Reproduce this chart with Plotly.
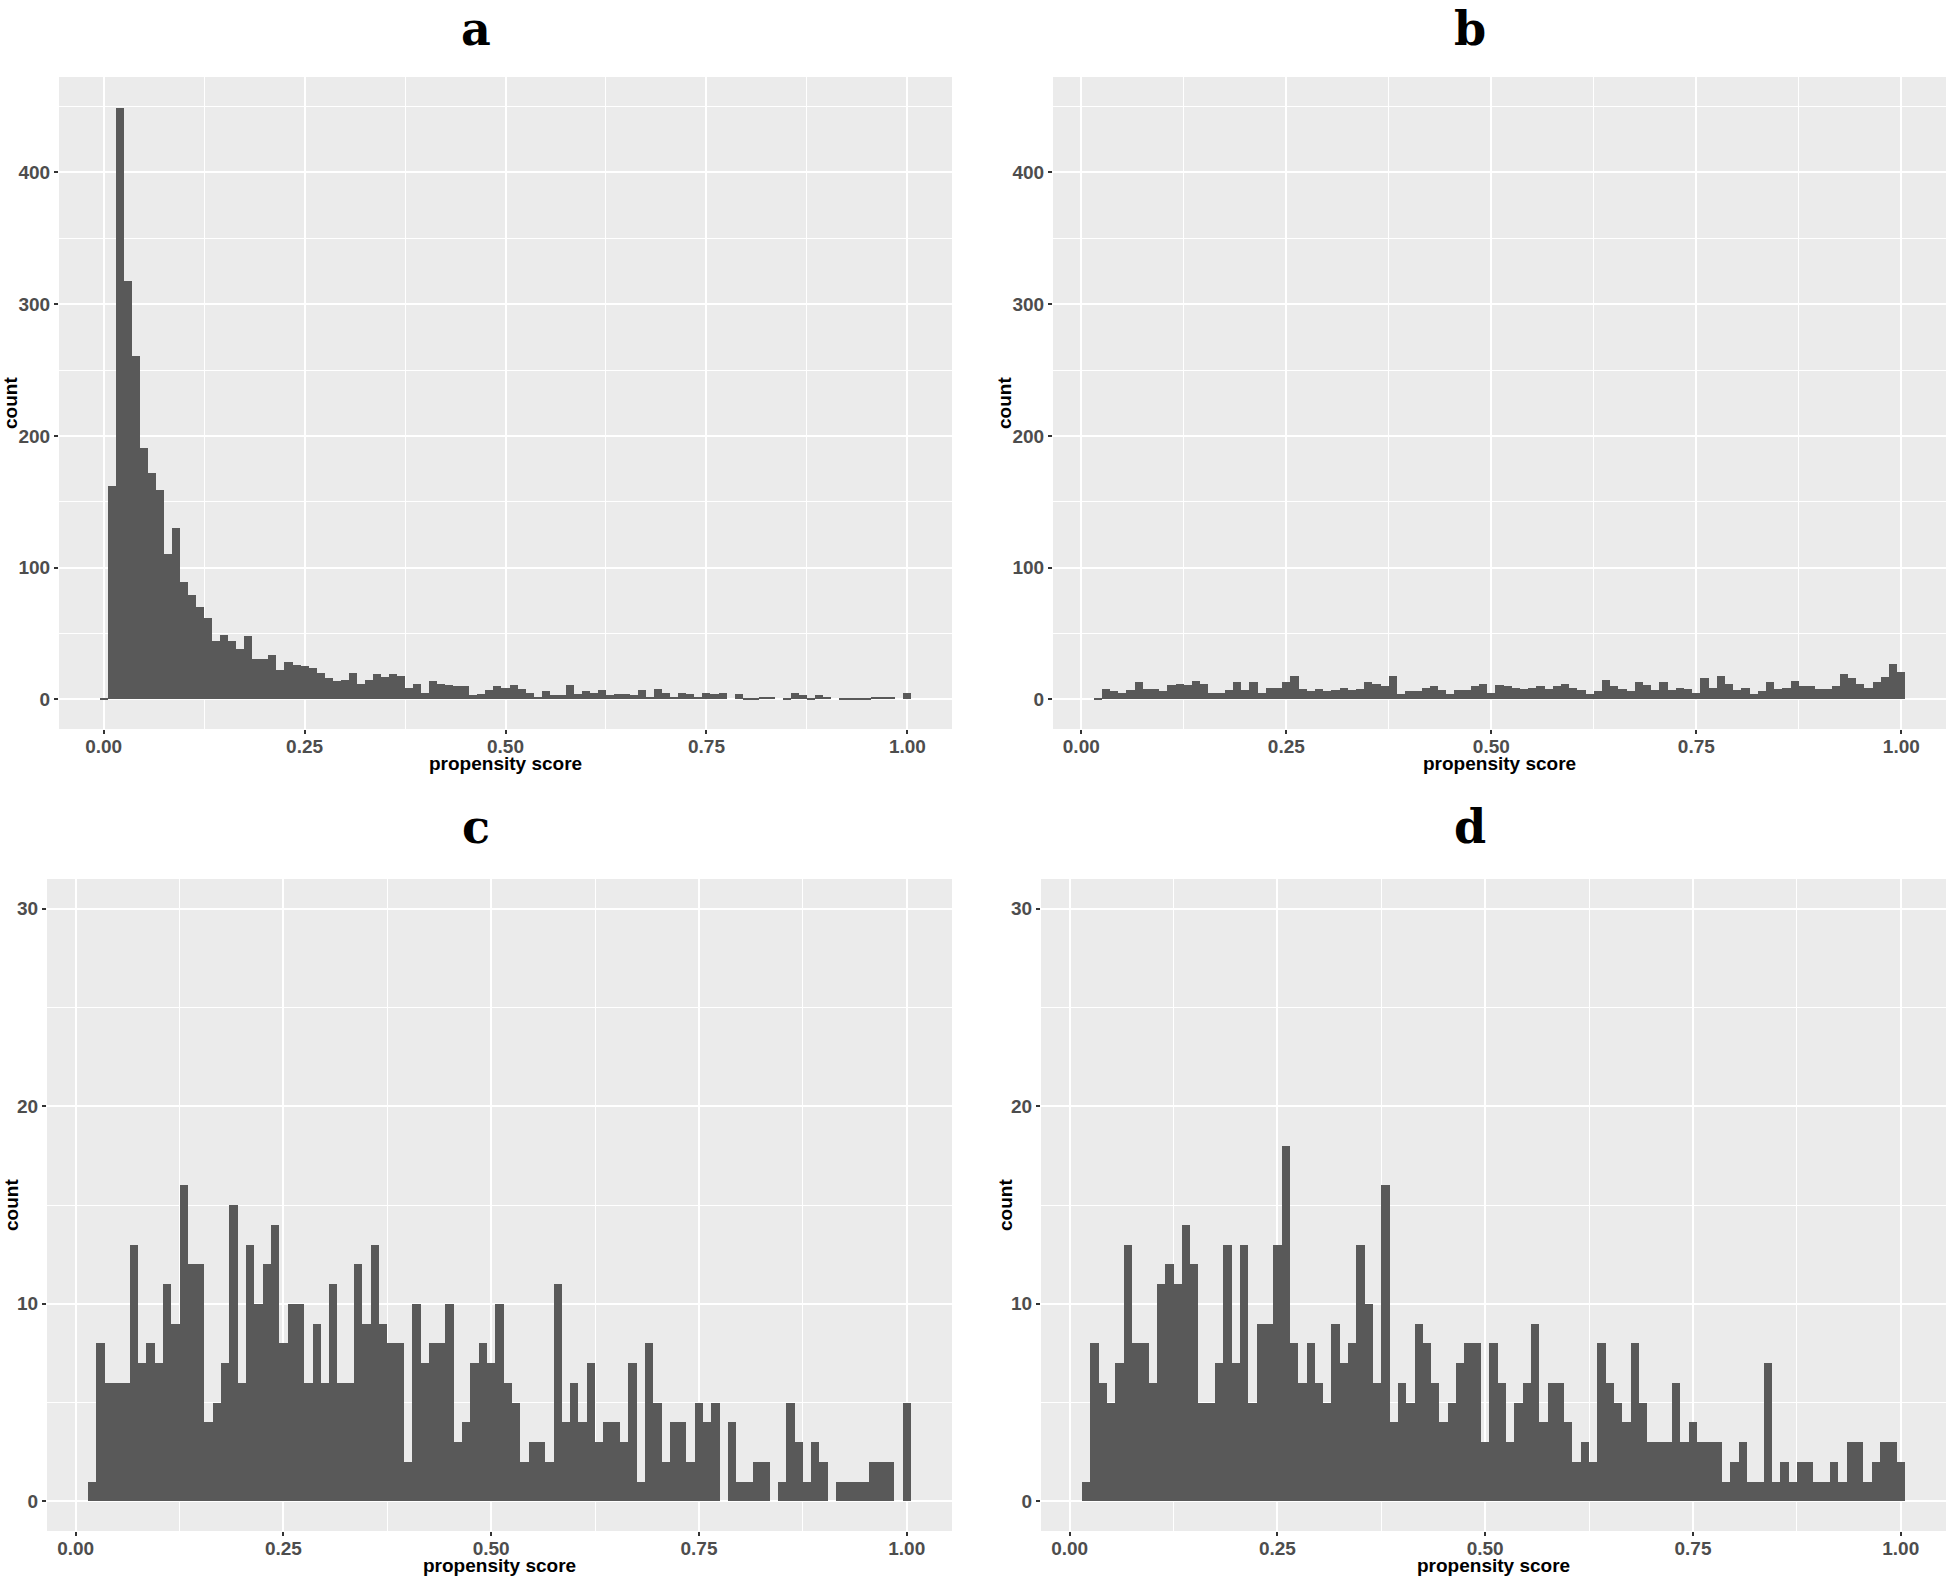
import plotly.graph_objects as go

# ---------------- data (histogram counts, bins of width 0.01 centred on 0.00 ... 1.00) ----------------
bin_width = 0.01
bin_centers = [round(i * bin_width, 2) for i in range(101)]

counts_a = [1, 162, 449, 318, 261, 191, 172, 159, 110, 130,
            89, 79, 70, 62, 44, 49, 44, 38, 48, 31,
            31, 34, 22, 28, 26, 25, 24, 20, 16, 14,
            15, 20, 12, 15, 19, 17, 19, 18, 9, 12,
            5, 14, 12, 11, 10, 10, 3, 4, 7, 10,
            9, 11, 8, 5, 2, 6, 3, 3, 11, 4,
            6, 5, 7, 3, 4, 4, 3, 7, 2, 8,
            5, 2, 5, 4, 2, 5, 4, 5, 0, 4,
            1, 1, 2, 2, 0, 1, 5, 3, 1, 3,
            2, 0, 1, 1, 1, 1, 2, 2, 2, 0,
            5]

counts_b = [0, 0, 1, 8, 6, 5, 7, 13, 8, 8,
            6, 11, 12, 11, 14, 12, 5, 5, 7, 13,
            7, 13, 5, 9, 9, 13, 18, 8, 6, 8,
            6, 7, 9, 7, 8, 13, 12, 10, 18, 4,
            6, 6, 9, 10, 7, 4, 7, 7, 10, 12,
            5, 11, 10, 9, 8, 9, 10, 8, 10, 12,
            9, 7, 4, 6, 15, 10, 8, 6, 13, 11,
            7, 13, 7, 9, 8, 5, 16, 9, 18, 12,
            7, 9, 4, 6, 13, 8, 9, 14, 10, 10,
            8, 8, 10, 19, 16, 12, 9, 13, 17, 27,
            21]

counts_c = [0, 0, 1, 8, 6, 6, 6, 13, 7, 8,
            7, 11, 9, 16, 12, 12, 4, 5, 7, 15,
            6, 13, 10, 12, 14, 8, 10, 10, 6, 9,
            6, 11, 6, 6, 12, 9, 13, 9, 8, 8,
            2, 10, 7, 8, 8, 10, 3, 4, 7, 8,
            7, 10, 6, 5, 2, 3, 3, 2, 11, 4,
            6, 4, 7, 3, 4, 4, 3, 7, 1, 8,
            5, 2, 4, 4, 2, 5, 4, 5, 0, 4,
            1, 1, 2, 2, 0, 1, 5, 3, 1, 3,
            2, 0, 1, 1, 1, 1, 2, 2, 2, 0,
            5]

counts_d = [0, 0, 1, 8, 6, 5, 7, 13, 8, 8,
            6, 11, 12, 11, 14, 12, 5, 5, 7, 13,
            7, 13, 5, 9, 9, 13, 18, 8, 6, 8,
            6, 5, 9, 7, 8, 13, 10, 6, 16, 4,
            6, 5, 9, 8, 6, 4, 5, 7, 8, 8,
            3, 8, 6, 3, 5, 6, 9, 4, 6, 6,
            4, 2, 3, 2, 8, 6, 5, 4, 8, 5,
            3, 3, 3, 6, 3, 4, 3, 3, 3, 1,
            2, 3, 1, 1, 7, 1, 2, 1, 2, 2,
            1, 1, 2, 1, 3, 3, 1, 2, 3, 3,
            2]

panel_labels = ["a", "b", "c", "d"]
x_title = "propensity score"
y_title = "count"
x_tick_vals = [0.0, 0.25, 0.5, 0.75, 1.0]
x_tick_text = ["0.00", "0.25", "0.50", "0.75", "1.00"]
x_minor_vals = [0.125, 0.375, 0.625, 0.875]
y_tick_vals_top = [0, 100, 200, 300, 400]
y_minor_vals_top = [50, 150, 250, 350, 450]
y_tick_vals_bot = [0, 10, 20, 30]
y_minor_vals_bot = [5, 15, 25]

# ---------------- layout geometry (pixels) ----------------
W, H = 1946, 1576
def fx(px):
    return px / W
def fy(py):
    return 1 - py / H

BAR = "#595959"
PANEL = "#EBEBEB"
TICKC = "#4D4D4D"
FONT = "Liberation Sans"

panels = [
    ("a", counts_a, (59, 952), (77, 729), [-0.0555, 1.0555], [-22.5, 472.5], y_tick_vals_top, y_minor_vals_top),
    ("b", counts_b, (1053, 1946), (77, 729), [-0.0345, 1.0545], [-22.5, 472.5], y_tick_vals_top, y_minor_vals_top),
    ("c", counts_c, (47, 952), (879, 1531), [-0.0345, 1.0545], [-1.5, 31.5], y_tick_vals_bot, y_minor_vals_bot),
    ("d", counts_d, (1041, 1946), (879, 1531), [-0.0345, 1.0545], [-1.5, 31.5], y_tick_vals_bot, y_minor_vals_bot),
]

fig = go.Figure()
annotations = []
layout_axes = {}

for i, (lab, counts, xpx, ypx, xr, yr, ytv, ymv) in enumerate(panels):
    n = "" if i == 0 else str(i + 1)
    fig.add_trace(go.Bar(
        x=bin_centers, y=counts, width=bin_width,
        marker=dict(color=BAR, line=dict(width=0)),
        xaxis="x" + n, yaxis="y" + n, showlegend=False, hoverinfo="x+y",
    ))
    common_font = dict(family=FONT, size=19, color=TICKC, weight="bold")
    layout_axes["xaxis" + n] = dict(
        domain=[fx(xpx[0]), fx(xpx[1])], anchor="y" + n, range=xr,
        tickmode="array", tickvals=x_tick_vals, ticktext=x_tick_text,
        showgrid=True, gridcolor="white", gridwidth=2.4,
        minor=dict(tickmode="array", tickvals=x_minor_vals, showgrid=True,
                   gridcolor="white", gridwidth=1.3, ticks=""),
        ticks="outside", ticklen=4, tickwidth=1.5, tickcolor="#333333",
        ticklabelstandoff=-4,
        zeroline=False, showline=False, tickfont=common_font, fixedrange=True,
    )
    layout_axes["yaxis" + n] = dict(
        domain=[fy(ypx[1]), fy(ypx[0])], anchor="x" + n, range=yr,
        tickmode="array", tickvals=ytv, ticktext=[str(v) for v in ytv],
        showgrid=True, gridcolor="white", gridwidth=2.4,
        minor=dict(tickmode="array", tickvals=ymv, showgrid=True,
                   gridcolor="white", gridwidth=1.3, ticks=""),
        ticks="outside", ticklen=4, tickwidth=1.5, tickcolor="#333333",
        zeroline=False, showline=False, tickfont=common_font, fixedrange=True,
    )
    fig.add_shape(type="rect", xref="paper", yref="paper",
                  x0=fx(xpx[0]), x1=fx(xpx[1]), y0=fy(ypx[1]), y1=fy(ypx[0]),
                  fillcolor=PANEL, line=dict(width=0), layer="below")

    cell_left = 0 if i % 2 == 0 else 994
    if i < 2:
        title_pos = dict(y=1.0, yanchor="top")
    else:
        title_pos = dict(y=fy(ypx[0] - 52), yanchor="middle")
    annotations.append(dict(
        text=lab, x=fx(cell_left + 476), xref="paper", yref="paper",
        xanchor="center", showarrow=False,
        font=dict(family="DejaVu Serif", size=46, color="black", weight="bold"),
        **title_pos,
    ))
    annotations.append(dict(
        text=x_title, x=fx((xpx[0] + xpx[1]) / 2), y=fy(ypx[1] + 34), xref="paper", yref="paper",
        xanchor="center", yanchor="middle", showarrow=False,
        font=dict(family=FONT, size=19, color="black", weight="bold"),
    ))
    annotations.append(dict(
        text=y_title, x=fx(cell_left + 11), y=fy((ypx[0] + ypx[1]) / 2), xref="paper", yref="paper",
        xanchor="center", yanchor="middle", showarrow=False, textangle=-90,
        font=dict(family=FONT, size=19, color="black", weight="bold"),
    ))

fig.update_layout(
    width=W, height=H, margin=dict(l=0, r=0, t=0, b=0),
    paper_bgcolor="white", plot_bgcolor="rgba(0,0,0,0)",
    bargap=0, annotations=annotations, **layout_axes,
)

fig.write_html("out.html", config={"displayModeBar": False},
               post_script="document.body.style.margin='0';document.body.style.overflow='hidden';")
